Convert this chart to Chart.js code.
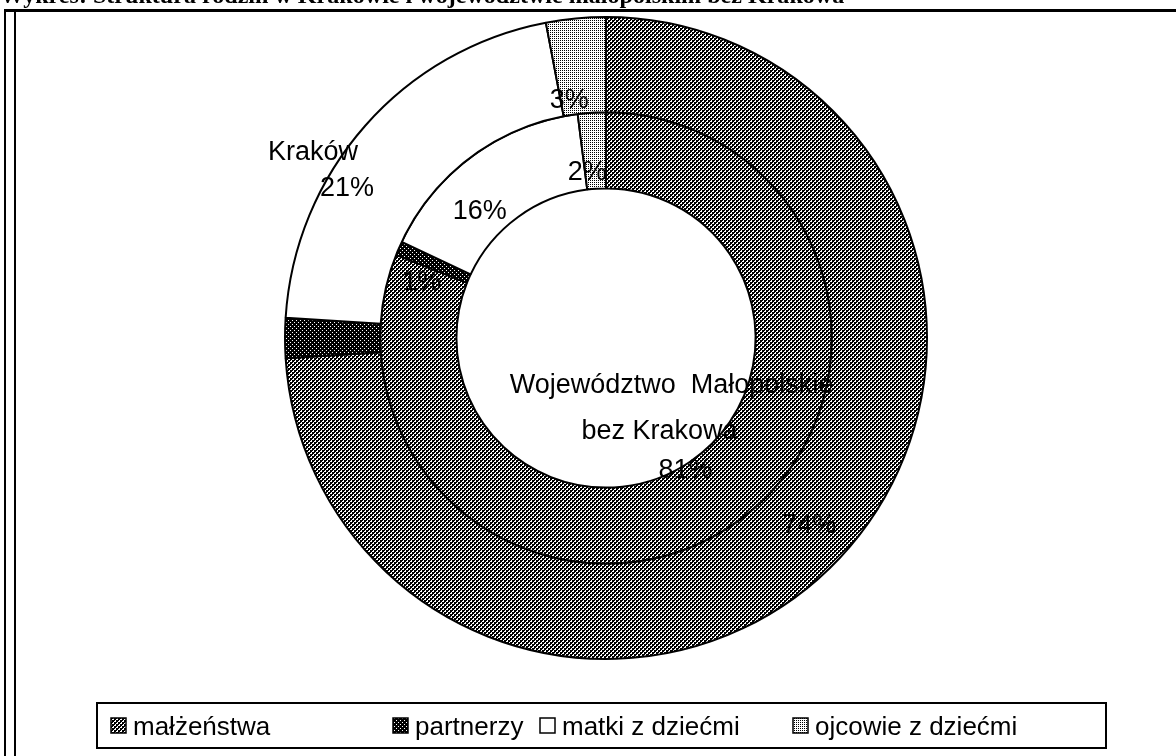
<!DOCTYPE html>
<html>
<head>
<meta charset="utf-8">
<script src="https://cdn.jsdelivr.net/npm/chart.js@4.4.1/dist/chart.umd.min.js"></script>
<style>
  html, body { margin: 0; padding: 0; background: #fff; }
  #wrap { position: relative; width: 1176px; height: 756px; }
</style>
</head>
<body>
<div id="wrap"><canvas id="chart"></canvas></div>
<script>
// data
const categories = ['małżeństwa', 'partnerzy', 'matki z dziećmi', 'ojcowie z dziećmi']
const seriesNames = ['Kraków', 'Województwo  Małopolskie bez Krakowa']
const krakowValues = [74, 2, 21, 3]
const wojewodztwoValues = [81, 1, 16, 2]
const titleText = 'Wykres: Struktura rodzin w Krakowie i województwie małopolskim bez Krakowa'

// label placement relative to slice centre, one [dx, dy] per text line, null = hidden
const labelSpots = [
  [[[4, 0]], null, [[-88, -5], [-54, 31]], [[-11, 35]]],
  [[[-40, -108], [-52, -62], [-26, -23]], [[-12, 19]], [[-16, 25]], [[-7, 22]]],
]
const nameShownAt = [2, 0]
const nameLines = [['Kraków'], ['Województwo  Małopolskie', 'bez Krakowa']]

function makePattern(base, ink, cells) {
  const c = document.createElement('canvas')
  c.width = 4
  c.height = 4
  const g = c.getContext('2d')
  g.fillStyle = base
  g.fillRect(0, 0, 4, 4)
  g.fillStyle = ink
  cells.forEach(([x, y, w, h]) => g.fillRect(x, y, w, h))
  return g.createPattern(c, 'repeat')
}

const patterns = [
  // grey checker, ink spread a bit like the scan
  makePattern('#fff', '#000', [[0, 0, 2, 2], [2, 2, 2, 2], [2, 0, 1, 1], [0, 2, 1, 1]]),
  // dark dither
  makePattern('#000', '#fff', [[0, 0, 1, 1], [2, 2, 1, 1]]),
  '#ffffff',
  // light dither
  makePattern('#fff', '#000', [[0, 0, 1, 1], [2, 2, 1, 1], [2, 0, 1, 1], [0, 2, 1, 1]]),
]

const sansFont = '"Liberation Sans", Arial, sans-serif'

const decorPlugin = {
  id: 'decor',
  beforeDraw(chart) {
    const { ctx } = chart
    ctx.save()
    ctx.fillStyle = '#fff'
    ctx.fillRect(0, 0, chart.width, chart.height)
    ctx.restore()
  },
  afterDraw(chart) {
    const { ctx } = chart
    ctx.save()

    // title, mostly cut off at the top of the scan
    ctx.fillStyle = '#000'
    ctx.font = 'bold 22px "Liberation Serif", "Times New Roman", serif'
    const w = ctx.measureText(titleText).width
    const size = 22 * 845 / w
    ctx.font = `bold ${size}px "Liberation Serif", "Times New Roman", serif`
    ctx.textBaseline = 'alphabetic'
    ctx.textAlign = 'left'
    ctx.fillText(titleText, 0, 3)

    // frame
    ctx.fillRect(4, 9, 1172, 3)
    ctx.fillRect(4, 9, 2, 747)
    ctx.fillRect(14, 9, 2, 747)

    // slice labels
    ctx.font = `27px ${sansFont}`
    ctx.textAlign = 'center'
    ctx.textBaseline = 'middle'
    chart.data.datasets.forEach((ds, di) => {
      const meta = chart.getDatasetMeta(di)
      meta.data.forEach((arc, i) => {
        const spots = labelSpots[di][i]
        if (!spots) return
        const pos = arc.tooltipPosition()
        const lines = (nameShownAt[di] === i ? nameLines[di] : []).concat([`${ds.data[i]}%`])
        lines.forEach((txt, li) => {
          const [dx, dy] = spots[li]
          ctx.fillText(txt, pos.x + dx, pos.y + dy)
        })
      })
    })

    // legend box
    ctx.lineWidth = 2
    ctx.strokeStyle = '#000'
    ctx.strokeRect(97, 703, 1009, 45)
    const itemX = [111, 393, 540, 793]
    ctx.font = `26px ${sansFont}`
    ctx.textAlign = 'left'
    ctx.textBaseline = 'alphabetic'
    categories.forEach((cat, i) => {
      ctx.fillStyle = patterns[i]
      ctx.fillRect(itemX[i], 718, 15, 15)
      ctx.lineWidth = 1.5
      ctx.strokeRect(itemX[i], 718, 15, 15)
      ctx.fillStyle = '#000'
      ctx.fillText(cat, itemX[i] + 22, 735)
    })
    ctx.restore()
  },
}

new Chart(document.getElementById('chart'), {
  type: 'doughnut',
  data: {
    labels: categories,
    datasets: [
      {
        label: seriesNames[0],
        data: krakowValues,
        backgroundColor: patterns,
        borderColor: '#000',
        borderWidth: 2,
        weight: 1.25,
      },
      {
        label: seriesNames[1],
        data: wojewodztwoValues,
        backgroundColor: patterns,
        borderColor: '#000',
        borderWidth: 2,
        weight: 1,
      },
    ],
  },
  options: {
    responsive: true,
    maintainAspectRatio: false,
    animation: false,
    cutout: '46.6%',
    layout: {
      padding: { left: 284, right: 248, top: 16, bottom: 96 },
    },
    plugins: {
      legend: { display: false },
      tooltip: { enabled: false },
      title: { display: false },
    },
    events: [],
  },
  plugins: [decorPlugin],
})
</script>
</body>
</html>
